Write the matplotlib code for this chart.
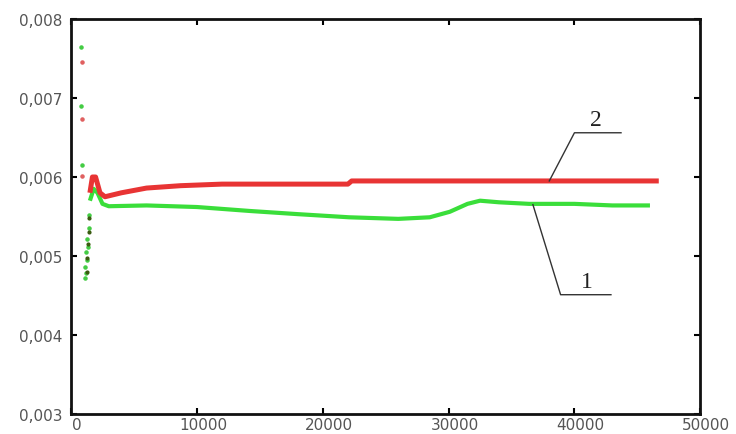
import matplotlib
matplotlib.use("Agg")
import matplotlib.pyplot as plt
import matplotlib.transforms as mtransforms
from matplotlib.ticker import FuncFormatter

# Curve 2 (red)
red_x = [1500, 1700, 1950, 2300, 2700, 4000, 6000, 8700, 12000, 17000, 22000, 22300, 30000, 40000, 46700]
red_y = [0.00580, 0.00600, 0.00600, 0.00580, 0.00575, 0.00580, 0.00586, 0.00589, 0.00591, 0.00591, 0.00591, 0.00595, 0.00595, 0.00595, 0.00595]

# Curve 1 (green)
green_x = [1500, 1800, 2100, 2500, 3000, 6000, 10000, 14200, 18000, 22100, 26000, 28500, 30100, 31500, 32500, 34000, 36400, 40000, 43000, 46000]
green_y = [0.00570, 0.00585, 0.00580, 0.00566, 0.00563, 0.00564, 0.00562, 0.00557, 0.00553, 0.00549, 0.00547, 0.00549, 0.00556, 0.00566, 0.00570, 0.00568, 0.00566, 0.00566, 0.00564, 0.00564]

# Early scattered points
green_pts_x = [800, 800, 850, 1100, 1200, 1150, 1300, 1200, 1350, 1250, 1400, 1400]
green_pts_y = [0.00765, 0.00690, 0.00615, 0.00472, 0.00478, 0.00486, 0.00495, 0.00505, 0.00512, 0.00522, 0.00536, 0.00552]
red_pts_x = [850, 850, 870]
red_pts_y = [0.00745, 0.00673, 0.00601]
dark_pts_x = [1250, 1300, 1350, 1400, 1450]
dark_pts_y = [0.00480, 0.00498, 0.00515, 0.00530, 0.00548]

xticks = [0, 10000, 20000, 30000, 40000, 50000]
yticks = [0.003, 0.004, 0.005, 0.006, 0.007, 0.008]

fig = plt.figure(figsize=(7.36, 4.35), dpi=100)
ax = fig.add_axes([0.0965, 0.046, 0.855, 0.908])

ax.plot(red_x, red_y, color="#e83434", lw=3.6, solid_capstyle="butt", zorder=3)
ax.plot(green_x, green_y, color="#3ade3a", lw=3.0, solid_capstyle="butt", zorder=2)
ax.scatter(green_pts_x, green_pts_y, s=5, color="#44cc44", zorder=4)
ax.scatter(red_pts_x, red_pts_y, s=5, color="#e06060", zorder=4)
ax.scatter(dark_pts_x, dark_pts_y, s=4, color="#3a5a10", zorder=5)

ax.set_xlim(0, 50000)
ax.set_ylim(0.003, 0.008)
ax.set_xticks(xticks)
ax.set_yticks(yticks)
ax.xaxis.set_major_formatter(FuncFormatter(lambda v, p: f"{int(v)}"))
ax.yaxis.set_major_formatter(FuncFormatter(lambda v, p: f"{v:.3f}".replace(".", ",")))
ax.tick_params(direction="in", top=True, right=True, length=4, width=1.5,
               labelsize=11, labelcolor="#555555", pad=2)
ax.tick_params(axis="y", pad=6)
offset = mtransforms.ScaledTranslation(6 / 100, 0, fig.dpi_scale_trans)
for lab in ax.get_xticklabels():
    lab.set_transform(lab.get_transform() + offset)
for s in ax.spines.values():
    s.set_linewidth(2)
    s.set_color("#111111")

# Leader lines and labels
ax.plot([38000, 40000, 43700], [0.00595, 0.00656, 0.00656], color="#333333", lw=1.0, zorder=6)
ax.text(41700, 0.00660, "2", fontsize=17, family="Liberation Serif", ha="center", va="bottom", color="#222222")
ax.plot([36700, 38900, 42900], [0.00565, 0.00451, 0.00451], color="#333333", lw=1.0, zorder=6)
ax.text(41000, 0.00455, "1", fontsize=17, family="Liberation Serif", ha="center", va="bottom", color="#222222")

fig.savefig("out.png", dpi=100)
